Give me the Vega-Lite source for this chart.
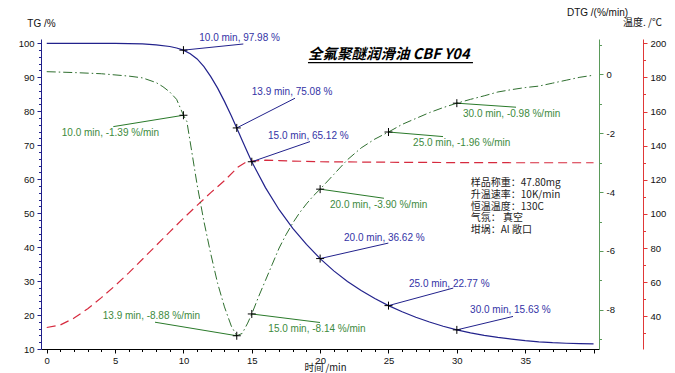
{
  "$schema": "https://vega.github.io/schema/vega-lite/v6.json",
  "width": 558,
  "height": 310,
  "autosize": "none",
  "padding": {"left": 41, "top": 39, "right": 76, "bottom": 24},
  "background": "white",
  "config": {
    "view": {"stroke": null},
    "font": "Liberation Sans",
    "axis": {"grid": false, "labelFont": "Liberation Sans", "labelFontSize": 9.5, "labelColor": "#111111", "titleFont": "Liberation Sans", "titleFontWeight": "normal", "titleFontSize": 10, "titleColor": "#111111", "labelOverlap": false, "labelFlush": false}
  },
  "datasets": {
    "tg": [
      {"t": 0, "v": 100}, {"t": 3, "v": 99.99}, {"t": 5, "v": 99.95}, {"t": 6, "v": 99.9}, {"t": 7, "v": 99.8}, {"t": 8, "v": 99.55}, {"t": 9, "v": 99.05}, {"t": 9.5, "v": 98.6}, {"t": 10, "v": 97.98},
      {"t": 10.5, "v": 96.9}, {"t": 11, "v": 95.4}, {"t": 11.5, "v": 93.1}, {"t": 12, "v": 90.2}, {"t": 12.5, "v": 86.8}, {"t": 13, "v": 82.9}, {"t": 13.5, "v": 78.7}, {"t": 13.9, "v": 75.08},
      {"t": 14.3, "v": 71.4}, {"t": 14.7, "v": 67.8}, {"t": 15, "v": 65.12}, {"t": 16, "v": 57.5}, {"t": 17, "v": 51.0}, {"t": 18, "v": 45.5}, {"t": 19, "v": 40.8}, {"t": 20, "v": 36.62},
      {"t": 21, "v": 33.0}, {"t": 22, "v": 29.9}, {"t": 23, "v": 27.2}, {"t": 24, "v": 24.85}, {"t": 25, "v": 22.77}, {"t": 26, "v": 20.95}, {"t": 27, "v": 19.35}, {"t": 28, "v": 17.95}, {"t": 29, "v": 16.7}, {"t": 30, "v": 15.63},
      {"t": 31, "v": 14.75}, {"t": 32, "v": 14.0}, {"t": 33, "v": 13.4}, {"t": 34, "v": 12.9}, {"t": 35, "v": 12.45}, {"t": 36, "v": 12.1}, {"t": 37, "v": 11.85}, {"t": 38, "v": 11.7}, {"t": 39, "v": 11.6}, {"t": 40, "v": 11.5}
    ],
    "dtg": [
      {"t": 0, "v": 0.09}, {"t": 2, "v": 0.06}, {"t": 4, "v": 0.02}, {"t": 6, "v": -0.06}, {"t": 7, "v": -0.12}, {"t": 8, "v": -0.28}, {"t": 8.5, "v": -0.42}, {"t": 9, "v": -0.6}, {"t": 9.5, "v": -0.85}, {"t": 10, "v": -1.39},
      {"t": 10.25, "v": -1.6}, {"t": 10.6, "v": -2.6}, {"t": 11, "v": -3.75}, {"t": 11.5, "v": -5.0}, {"t": 12, "v": -6.1}, {"t": 12.5, "v": -7.1}, {"t": 13, "v": -7.9}, {"t": 13.5, "v": -8.55}, {"t": 13.9, "v": -8.88},
      {"t": 14.3, "v": -8.8}, {"t": 14.7, "v": -8.45}, {"t": 15, "v": -8.14}, {"t": 15.5, "v": -7.55}, {"t": 16, "v": -7.0}, {"t": 16.5, "v": -6.45}, {"t": 17, "v": -5.9}, {"t": 17.5, "v": -5.45}, {"t": 18, "v": -5.05}, {"t": 18.5, "v": -4.7}, {"t": 19, "v": -4.4}, {"t": 19.5, "v": -4.13}, {"t": 20, "v": -3.9},
      {"t": 21, "v": -3.4}, {"t": 22, "v": -2.9}, {"t": 23, "v": -2.5}, {"t": 24, "v": -2.2}, {"t": 25, "v": -1.96}, {"t": 26, "v": -1.7}, {"t": 27, "v": -1.5}, {"t": 28, "v": -1.3}, {"t": 29, "v": -1.13}, {"t": 30, "v": -0.98},
      {"t": 31, "v": -0.85}, {"t": 32, "v": -0.73}, {"t": 33, "v": -0.6}, {"t": 34, "v": -0.52}, {"t": 35, "v": -0.45}, {"t": 36, "v": -0.4}, {"t": 37, "v": -0.3}, {"t": 38, "v": -0.2}, {"t": 39, "v": -0.1}, {"t": 40, "v": -0.03}
    ],
    "temp": [
      {"t": 0, "v": 33.5}, {"t": 1, "v": 35}, {"t": 2, "v": 39}, {"t": 3, "v": 44.5}, {"t": 4, "v": 51}, {"t": 5, "v": 58}, {"t": 6, "v": 65.5}, {"t": 7, "v": 73.5}, {"t": 8, "v": 81.5}, {"t": 9, "v": 89.5}, {"t": 10, "v": 97.5},
      {"t": 11, "v": 105}, {"t": 12, "v": 112.5}, {"t": 13, "v": 119.5}, {"t": 14, "v": 127.5}, {"t": 14.5, "v": 130}, {"t": 15, "v": 131}, {"t": 16, "v": 131.5}, {"t": 17, "v": 131.3}, {"t": 18, "v": 131}, {"t": 20, "v": 130.6},
      {"t": 25, "v": 130.3}, {"t": 30, "v": 130.1}, {"t": 35, "v": 130}, {"t": 40, "v": 130}
    ],
    "lblTG": [
      {"t": 10, "v": 97.98, "ex": 14.38, "ey": 99.79, "lx": 11.16, "ly": 101.47, "label": "10.0 min, 97.98 %"},
      {"t": 13.9, "v": 75.08, "ex": 18.16, "ey": 83.82, "lx": 15.0, "ly": 85.59, "label": "13.9 min, 75.08 %"},
      {"t": 15, "v": 65.12, "ex": 19.26, "ey": 71.06, "lx": 16.19, "ly": 72.74, "label": "15.0 min, 65.12 %"},
      {"t": 20, "v": 36.62, "ex": 24.99, "ey": 41.18, "lx": 21.75, "ly": 42.82, "label": "20.0 min, 36.62 %"},
      {"t": 25, "v": 22.77, "ex": 29.74, "ey": 27.94, "lx": 26.5, "ly": 29.21, "label": "25.0 min, 22.77 %"},
      {"t": 30, "v": 15.63, "ex": 34.11, "ey": 19.59, "lx": 30.97, "ly": 21.35, "label": "30.0 min, 15.63 %"}
    ],
    "lblDTG": [
      {"t": 10, "v": -1.39, "ex": 4.87, "ey": -1.776, "lx": 1.1, "ly": -2.0, "label": "10.0 min, -1.39 %/min"},
      {"t": 13.9, "v": -8.88, "ex": 7.92, "ey": -8.42, "lx": 4.1, "ly": -8.2, "label": "13.9 min, -8.88 %/min"},
      {"t": 15, "v": -8.14, "ex": 19.99, "ey": -8.43, "lx": 16.21, "ly": -8.66, "label": "15.0 min, -8.14 %/min"},
      {"t": 20, "v": -3.9, "ex": 24.67, "ey": -4.21, "lx": 20.72, "ly": -4.43, "label": "20.0 min, -3.90 %/min"},
      {"t": 25, "v": -1.96, "ex": 28.99, "ey": -2.115, "lx": 26.8, "ly": -2.34, "label": "25.0 min, -1.96 %/min"},
      {"t": 30, "v": -0.98, "ex": 34.33, "ey": -1.117, "lx": 30.45, "ly": -1.36, "label": "30.0 min, -0.98 %/min"}
    ],
    "info": [
      {"lx": 31.02, "ly": 58.82, "label": "样品称重：47.80mg"},
      {"lx": 31.02, "ly": 55.38, "label": "升温速率：10K/min"},
      {"lx": 31.02, "ly": 51.94, "label": "恒温温度：130C"},
      {"lx": 31.02, "ly": 48.5, "label": "气氛：  真空"},
      {"lx": 31.02, "ly": 45.06, "label": "坩埚：Al 敞口"}
    ],
    "title": [
      {"lx": 19.11, "ly": 96.56, "rx": 31.18, "ry": 94.32, "label": "全氟聚醚润滑油 CBF Y04"}
    ]
  },
  "layer": [
    {
      "data": {"name": "temp"},
      "mark": {"type": "line", "color": "#d62a3e", "strokeWidth": 1.2, "strokeDash": [9, 5]},
      "encoding": {
        "x": {"field": "t", "type": "quantitative", "scale": {"domain": [-0.42, 40.4], "nice": false, "zero": false}, "axis": null},
        "y": {"field": "v", "type": "quantitative", "scale": {"domain": [20.9, 202.5], "nice": false, "zero": false},
          "axis": {"orient": "right", "offset": 44, "values": [30,40,50,60,70,80,90,100,110,120,130,140,150,160,170,180,190,200],
            "labelExpr": "datum.value % 20 === 0 ? '' + datum.value : ''", "labelOverlap": false,
            "domainColor": "#e03838", "tickColor": "#e03838", "tickSize": {"condition": {"test": "datum.value % 20 === 0", "value": 4}, "value": 2.5}, "labelPadding": 3,
            "title": "温度. /℃", "titleFont": "Noto Sans CJK SC", "titleAngle": 0, "titleX": -1, "titleY": -17, "titleAlign": "center", "titleBaseline": "middle"}}
      }
    },
    {
      "data": {"name": "dtg"},
      "mark": {"type": "line", "color": "#2f6f2f", "strokeWidth": 1, "strokeDash": [9, 3, 1.5, 3]},
      "encoding": {
        "x": {"field": "t", "type": "quantitative", "scale": {"domain": [-0.42, 40.4], "nice": false, "zero": false}, "axis": null},
        "y": {"field": "v", "type": "quantitative", "scale": {"domain": [-9.33, 1.2], "nice": false, "zero": false},
          "axis": {"orient": "right", "values": [-9,-8,-7,-6,-5,-4,-3,-2,-1,0,1],
            "labelExpr": "datum.value % 2 === 0 ? '' + datum.value : ''", "labelOverlap": false,
            "domainColor": "#5a9a5a", "tickColor": "#5a9a5a", "tickSize": {"condition": {"test": "datum.value % 2 === 0", "value": 4}, "value": 2.5}, "labelPadding": 3,
            "title": "DTG /(%/min)", "titleAngle": 0, "titleX": -2, "titleY": -27, "titleAlign": "center", "titleBaseline": "middle"}}
      }
    },
    {
      "data": {"name": "tg"},
      "mark": {"type": "line", "color": "#22228c", "strokeWidth": 1.2},
      "encoding": {
        "x": {"field": "t", "type": "quantitative", "scale": {"domain": [-0.42, 40.4], "nice": false, "zero": false},
          "axis": {"orient": "bottom", "values": [0,1,2,3,4,5,6,7,8,9,10,11,12,13,14,15,16,17,18,19,20,21,22,23,24,25,26,27,28,29,30,31,32,33,34,35,36,37,38,39,40],
            "labelExpr": "datum.value % 5 === 0 && datum.value < 40 ? '' + datum.value : ''", "labelOverlap": false, "labelFlush": false,
            "domainColor": "#000000", "tickColor": "#000000", "tickSize": {"condition": {"test": "datum.value % 5 === 0", "value": 4}, "value": 2.5}, "labelPadding": 2,
            "title": "时间 /min", "titleFont": "Noto Sans CJK SC", "titleFontSize": 9.5, "titleX": 284, "titleY": 18, "titleAlign": "center", "titleBaseline": "middle"}},
        "y": {"field": "v", "type": "quantitative", "scale": {"domain": [10, 101.26], "nice": false, "zero": false},
          "axis": {"orient": "left", "values": [10,12,14,16,18,20,22,24,26,28,30,32,34,36,38,40,42,44,46,48,50,52,54,56,58,60,62,64,66,68,70,72,74,76,78,80,82,84,86,88,90,92,94,96,98,100],
            "labelExpr": "datum.value % 10 === 0 ? '' + datum.value : ''", "labelOverlap": false,
            "domainColor": "#20208a", "tickColor": "#20208a", "tickSize": {"condition": {"test": "datum.value % 10 === 0", "value": 4}, "value": 2.5}, "labelPadding": 3,
            "title": "TG /%", "titleAngle": 0, "titleX": 0, "titleY": -16, "titleAlign": "center", "titleBaseline": "middle"}}
      }
    },
    {
      "data": {"name": "lblTG"},
      "mark": {"type": "rule", "color": "#22228c", "strokeWidth": 1},
      "encoding": {
        "x": {"field": "t", "type": "quantitative", "scale": {"domain": [-0.42, 40.4], "nice": false, "zero": false}, "axis": null},
        "y": {"field": "v", "type": "quantitative", "scale": {"domain": [10, 101.26], "nice": false, "zero": false}, "axis": null},
        "x2": {"field": "ex"},
        "y2": {"field": "ey"}
      }
    },
    {
      "data": {"name": "lblTG"},
      "mark": {"type": "point", "shape": "M-1,0L1,0M0,-1L0,1", "size": 64, "filled": false, "stroke": "#000000", "strokeWidth": 1, "opacity": 1},
      "encoding": {
        "x": {"field": "t", "type": "quantitative", "scale": {"domain": [-0.42, 40.4], "nice": false, "zero": false}, "axis": null},
        "y": {"field": "v", "type": "quantitative", "scale": {"domain": [10, 101.26], "nice": false, "zero": false}, "axis": null}
      }
    },
    {
      "data": {"name": "lblTG"},
      "mark": {"type": "text", "align": "left", "baseline": "middle", "fontSize": 10, "color": "#3333a6"},
      "encoding": {
        "x": {"field": "lx", "type": "quantitative", "scale": {"domain": [-0.42, 40.4], "nice": false, "zero": false}, "axis": null},
        "y": {"field": "ly", "type": "quantitative", "scale": {"domain": [10, 101.26], "nice": false, "zero": false}, "axis": null},
        "text": {"field": "label"}
      }
    },
    {
      "data": {"name": "info"},
      "mark": {"type": "text", "align": "left", "baseline": "middle", "fontSize": 10, "font": "Noto Sans CJK SC", "color": "#222222"},
      "encoding": {
        "x": {"field": "lx", "type": "quantitative", "scale": {"domain": [-0.42, 40.4], "nice": false, "zero": false}, "axis": null},
        "y": {"field": "ly", "type": "quantitative", "scale": {"domain": [10, 101.26], "nice": false, "zero": false}, "axis": null},
        "text": {"field": "label"}
      }
    },
    {
      "data": {"name": "title"},
      "mark": {"type": "text", "align": "left", "baseline": "middle", "fontSize": 14.5, "fontWeight": "bold", "fontStyle": "italic", "font": "Noto Sans CJK SC", "color": "#000000"},
      "encoding": {
        "x": {"field": "lx", "type": "quantitative", "scale": {"domain": [-0.42, 40.4], "nice": false, "zero": false}, "axis": null},
        "y": {"field": "ly", "type": "quantitative", "scale": {"domain": [10, 101.26], "nice": false, "zero": false}, "axis": null},
        "text": {"field": "label"}
      }
    },
    {
      "data": {"name": "title"},
      "mark": {"type": "rule", "color": "#000000", "strokeWidth": 1.3},
      "encoding": {
        "x": {"field": "lx", "type": "quantitative", "scale": {"domain": [-0.42, 40.4], "nice": false, "zero": false}, "axis": null},
        "x2": {"field": "rx"},
        "y": {"field": "ry", "type": "quantitative", "scale": {"domain": [10, 101.26], "nice": false, "zero": false}, "axis": null}
      }
    },
    {
      "data": {"name": "lblDTG"},
      "mark": {"type": "rule", "color": "#2a7a2a", "strokeWidth": 1},
      "encoding": {
        "x": {"field": "t", "type": "quantitative", "scale": {"domain": [-0.42, 40.4], "nice": false, "zero": false}, "axis": null},
        "y": {"field": "v", "type": "quantitative", "scale": {"domain": [-9.33, 1.2], "nice": false, "zero": false}, "axis": null},
        "x2": {"field": "ex"},
        "y2": {"field": "ey"}
      }
    },
    {
      "data": {"name": "lblDTG"},
      "mark": {"type": "point", "shape": "M-1,0L1,0M0,-1L0,1", "size": 64, "filled": false, "stroke": "#000000", "strokeWidth": 1, "opacity": 1},
      "encoding": {
        "x": {"field": "t", "type": "quantitative", "scale": {"domain": [-0.42, 40.4], "nice": false, "zero": false}, "axis": null},
        "y": {"field": "v", "type": "quantitative", "scale": {"domain": [-9.33, 1.2], "nice": false, "zero": false}, "axis": null}
      }
    },
    {
      "data": {"name": "lblDTG"},
      "mark": {"type": "text", "align": "left", "baseline": "middle", "fontSize": 10, "color": "#3d8a3d"},
      "encoding": {
        "x": {"field": "lx", "type": "quantitative", "scale": {"domain": [-0.42, 40.4], "nice": false, "zero": false}, "axis": null},
        "y": {"field": "ly", "type": "quantitative", "scale": {"domain": [-9.33, 1.2], "nice": false, "zero": false}, "axis": null},
        "text": {"field": "label"}
      }
    }
  ],
  "resolve": {"scale": {"x": "independent", "y": "independent"}, "axis": {"x": "independent", "y": "independent"}}
}
